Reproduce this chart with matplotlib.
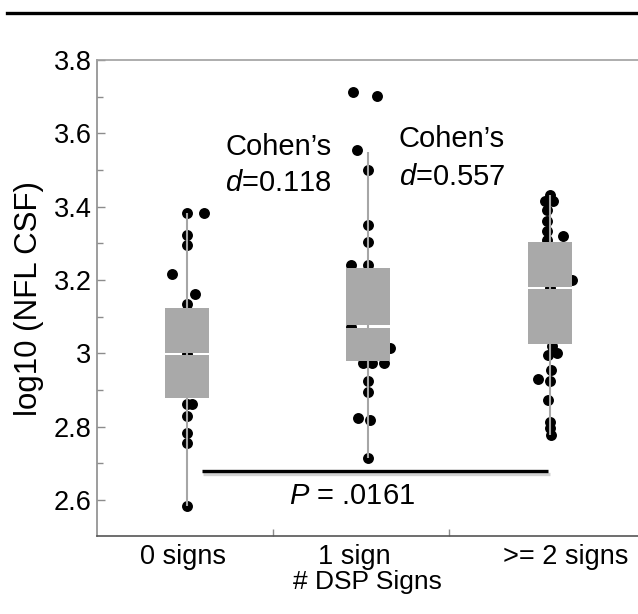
import matplotlib

matplotlib.use("Agg")

import matplotlib.pyplot as plt
import matplotlib.patheffects as pe
from matplotlib.lines import Line2D

plt.rcParams["font.family"] = ["Liberation Sans", "DejaVu Sans"]
plt.rcParams["mathtext.fontset"] = "custom"
plt.rcParams["mathtext.rm"] = "Liberation Sans"
plt.rcParams["mathtext.it"] = "Liberation Sans:italic"

# ---- data ----
categories = ["0 signs", "1 sign", ">= 2 signs"]
group_pos = [0.0, 1.0, 2.0]
label_pos = [-0.022, 0.921, 2.09]      # label centres (JMP proportional bins)
bin_edges = [0.473, 1.445]             # tick marks between categories

# box statistics: lower whisker, q1, median, q3, upper whisker
whisk_lo = [2.583, 2.715, 2.778]
q1 = [2.879, 2.980, 3.025]
median = [2.998, 3.073, 3.178]
q3 = [3.124, 3.232, 3.303]
whisk_hi = [3.383, 3.550, 3.432]

# visible points: (jitter offset, value)
g0_off = [0.0, 0.094, 0.0, 0.0, -0.08, 0.044, 0.0, 0.0, 0.0, 0.028, 0.0, 0.0, 0.0, 0.0]
g0_val = [3.383, 3.383, 3.323, 3.296, 3.216, 3.162, 3.134, 2.998, 2.863, 2.863,
          2.828, 2.784, 2.756, 2.583]

g1_off = [-0.085, 0.047, -0.063, 0.0, 0.0, 0.0, 0.0, -0.094, -0.095, 0.117,
          -0.03, 0.02, 0.085, 0.0, 0.0, -0.058, 0.007, 0.0]
g1_val = [3.714, 3.702, 3.555, 3.500, 3.350, 3.305, 3.241, 3.241, 3.073, 3.014,
          2.974, 2.974, 2.974, 2.924, 2.896, 2.824, 2.819, 2.715]

g2_off = [0.0, -0.026, 0.018, -0.015, -0.015, -0.015, -0.015, 0.0, 0.072, 0.121,
          0.0, 0.013, 0.04, -0.01, 0.01, -0.063, 0.0, -0.01, 0.0, 0.0, 0.007]
g2_val = [3.432, 3.415, 3.415, 3.39, 3.36, 3.335, 3.31, 3.29, 3.319, 3.20,
          3.178, 3.02, 3.00, 2.995, 2.955, 2.93, 2.924, 2.874, 2.814, 2.796, 2.778]

yticks = [2.6, 2.8, 3.0, 3.2, 3.4, 3.6, 3.8]
ytick_labels = ["2.6", "2.8", "3", "3.2", "3.4", "3.6", "3.8"]

bracket_x = [0.081, 1.992]
bracket_y = 2.68

BOX = "#a9a9a9"
WHISK = "#a6a6a6"
SPINE = "#8c8c8c"

fig = plt.figure(figsize=(6.38, 6.14), dpi=100)
ax = fig.add_axes([97 / 638, 1 - 536 / 614, (638 - 97) / 638, (536 - 60) / 614])
ax.set_xlim(-0.496, 2.487)
ax.set_ylim(2.502, 3.8)

# points
for c, offs, vals in zip(group_pos, [g0_off, g1_off, g2_off], [g0_val, g1_val, g2_val]):
    ax.scatter([c + o for o in offs], vals, s=62, color="black", linewidths=0, zorder=2)

# whiskers
ax.vlines(group_pos, whisk_lo, whisk_hi, color=WHISK, lw=1.5, zorder=3)

# boxes, split at the median by a thin gap
gap = 0.0035
box_w = 0.243
lower_h = [m - a - gap for a, m in zip(q1, median)]
upper_b = [m + gap for m in median]
upper_h = [b - u for u, b in zip(upper_b, q3)]
ax.bar(group_pos, lower_h, bottom=q1, width=box_w, color=BOX, zorder=4)
ax.bar(group_pos, upper_h, bottom=upper_b, width=box_w, color=BOX, zorder=4)

# comparison bracket
ax.plot(bracket_x, [bracket_y, bracket_y], color="black", lw=2.4, solid_capstyle="butt", zorder=5,
        path_effects=[pe.SimpleLineShadow(offset=(1, -2), shadow_color="gray", alpha=0.35),
                      pe.Normal()])
ax.text(0.908, 2.610, "$P$ = .0161", ha="center", va="center", fontsize=21)

# effect sizes
ax.text(0.21, 3.541, "Cohen\u2019s", ha="left", va="baseline", fontsize=21)
ax.text(0.21, 3.444, "$d$=0.118", ha="left", va="baseline", fontsize=21)
ax.text(1.169, 3.564, "Cohen\u2019s", ha="left", va="baseline", fontsize=21)
ax.text(1.169, 3.460, "$d$=0.557", ha="left", va="baseline", fontsize=21)

# axes styling
ax.set_yticks(yticks)
ax.set_yticklabels(ytick_labels)
ax.set_yticks([2.7, 2.9, 3.1, 3.3, 3.5, 3.7], minor=True)
ax.tick_params(axis="y", which="major", direction="in", length=6, width=1, color=SPINE,
               labelsize=19.5, pad=4)
ax.tick_params(axis="y", which="minor", direction="in", length=4, width=1, color=SPINE)

ax.set_xticks(bin_edges)
ax.set_xticklabels(["", ""])
ax.tick_params(axis="x", which="major", direction="in", length=5, width=1, color=SPINE)
ax.set_xticks(label_pos, minor=True)
ax.set_xticklabels(categories, minor=True)
ax.tick_params(axis="x", which="minor", length=0, labelsize=19.5, pad=6)

ax.set_xlabel("# DSP Signs", fontsize=19, labelpad=0)
ax.set_ylabel("log10 (NFL CSF)", fontsize=22.5, labelpad=7)

ax.spines["right"].set_visible(False)
ax.spines["left"].set_color(SPINE)
ax.spines["top"].set_color("#a0a0a0")
ax.spines["bottom"].set_color("#555555")
for s in ("left", "top", "bottom"):
    ax.spines[s].set_linewidth(1.2)

# rule across the top of the panel
fig.add_artist(Line2D([7 / 638, 1.0], [1 - 12.7 / 614] * 2, color="black", lw=2.4,
                      transform=fig.transFigure))

fig.savefig("out.png", dpi=100)
